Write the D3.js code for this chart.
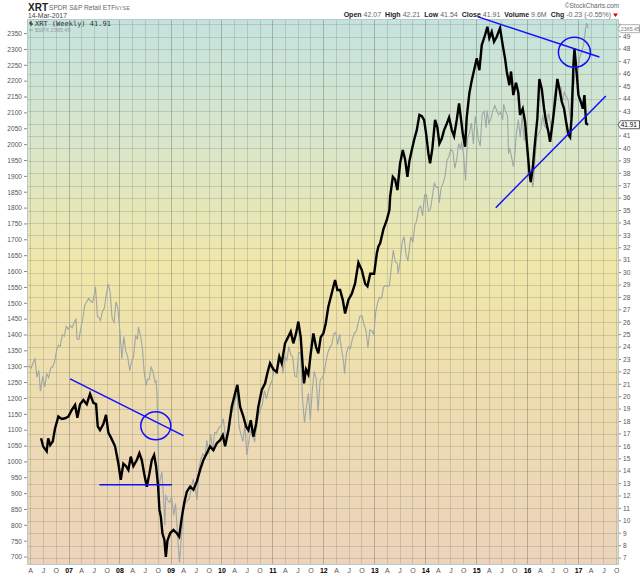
<!DOCTYPE html>
<html><head><meta charset="utf-8">
<script src="https://cdn.jsdelivr.net/npm/d3@7"></script>
<style>
html,body{margin:0;padding:0;background:#fff;}
svg{display:block;font-family:"Liberation Sans",Arial,sans-serif;}
</style></head>
<body><svg id="c" width="640" height="576"></svg>
<script>
// ---------------- DATA ----------------
const quarterLabels = ["A","J","O"];               // month quarter labels between years
const spxTicks = d3.range(700, 2351, 50);           // left axis ($SPX)
const xrtTicks = d3.range(7, 51, 1);                // right axis (XRT)
const headerStats = [["Open","42.07"],["High","42.21"],["Low","41.54"],["Close","41.91"],["Volume","9.6M"],["Chg","-0.23 (-0.55%)"]];
const xrtLast = 41.91, spxLast = 2365.45;

// XRT weekly (decimal year, price)
const xrt = [
[2006.46,16.65],[2006.50,16.0],[2006.57,15.6],[2006.60,16.65],[2006.64,16.1],[2006.69,16.4],[2006.735,17.46],[2006.80,18.4],[2006.866,18.2],[2006.93,18.26],[2006.996,18.4],
[2007.063,18.93],[2007.128,19.33],[2007.173,18.3],[2007.226,19.4],[2007.291,19.74],[2007.357,19.4],[2007.422,20.22],[2007.487,19.5],[2007.54,19.4],[2007.573,17.6],[2007.618,17.3],[2007.683,17.8],[2007.736,18.53],[2007.781,17.1],[2007.834,16.7],[2007.913,16.0],[2007.977,14.64],
[2008.025,13.3],[2008.076,14.6],[2008.129,14.4],[2008.174,14.1],[2008.221,15.17],[2008.272,14.4],[2008.339,14.9],[2008.39,15.44],[2008.437,14.9],[2008.482,13.83],[2008.535,12.75],[2008.586,13.8],[2008.633,14.9],[2008.678,15.3],[2008.717,14.4],[2008.757,12.75],[2008.782,10.88],[2008.81,10.34],[2008.841,9.0],[2008.88,8.46],[2008.908,7.1],[2008.939,8.4],[2008.992,9.0],
[2009.057,9.27],[2009.124,9.0],[2009.169,8.73],[2009.222,10.3],[2009.267,11.42],[2009.32,12.35],[2009.385,12.75],[2009.449,12.5],[2009.516,13.16],[2009.581,14.1],[2009.646,14.9],[2009.712,15.44],[2009.777,16.0],[2009.842,15.7],[2009.909,16.25],[2009.974,16.5],
[2010.026,16.9],[2010.072,16.0],[2010.137,17.32],[2010.203,19.2],[2010.268,20.28],[2010.313,20.95],[2010.366,19.2],[2010.431,18.39],[2010.484,17.59],[2010.529,17.3],[2010.576,18.1],[2010.627,16.78],[2010.68,17.8],[2010.725,19.2],[2010.792,20.54],[2010.857,21.08],[2010.902,21.9],[2010.955,22.7],
[2011.02,22.2],[2011.086,22.0],[2011.137,23.23],[2011.184,22.7],[2011.249,24.3],[2011.314,24.84],[2011.361,25.24],[2011.412,24.3],[2011.465,25.1],[2011.51,26.05],[2011.557,24.8],[2011.597,22.4],[2011.622,21.08],[2011.661,22.2],[2011.707,21.8],[2011.754,23.5],[2011.805,25.1],[2011.858,24.0],[2011.903,23.5],[2011.95,24.8],
[2012.001,25.1],[2012.048,25.9],[2012.099,27.25],[2012.166,28.33],[2012.231,29.4],[2012.276,28.6],[2012.329,28.6],[2012.382,27.8],[2012.427,26.7],[2012.492,27.8],[2012.559,28.3],[2012.623,29.13],[2012.688,30.8],[2012.755,30.2],[2012.82,29.1],[2012.865,28.9],[2012.92,29.9],[2012.996,29.9],
[2013.049,31.55],[2013.08,32.1],[2013.114,32.36],[2013.179,33.5],[2013.245,34.24],[2013.296,35.04],[2013.31,36.1],[2013.363,37.72],[2013.408,37.5],[2013.453,36.65],[2013.506,38.8],[2013.559,39.87],[2013.605,39.1],[2013.65,37.72],[2013.689,39.0],[2013.736,39.87],[2013.781,40.68],[2013.834,41.48],[2013.885,42.7],[2013.932,42.6],[2013.977,42.3],
[2014.017,41.2],[2014.062,39.6],[2014.095,38.8],[2014.14,40.0],[2014.193,42.3],[2014.238,41.7],[2014.278,40.4],[2014.325,40.8],[2014.37,41.48],[2014.423,42.0],[2014.468,42.5],[2014.521,41.5],[2014.566,41.0],[2014.619,42.3],[2014.664,43.63],[2014.737,41.2],[2014.782,40.14],[2014.815,42.5],[2014.866,44.44],[2014.914,45.5],[2014.959,46.3],
[2015.012,47.26],[2015.063,46.3],[2015.11,48.33],[2015.175,49.14],[2015.22,49.8],[2015.259,48.9],[2015.306,49.4],[2015.351,48.6],[2015.404,49.0],[2015.469,49.7],[2015.522,48.33],[2015.567,47.26],[2015.601,46.2],[2015.652,45.1],[2015.685,46.2],[2015.73,44.3],[2015.783,45.3],[2015.828,44.5],[2015.862,42.7],[2015.915,43.2],[2015.96,42.15],
[2016.005,40.0],[2016.044,38.13],[2016.072,37.3],[2016.111,38.4],[2016.156,40.54],[2016.201,42.4],[2016.241,45.6],[2016.288,44.8],[2016.333,43.2],[2016.372,42.15],[2016.417,41.35],[2016.45,40.54],[2016.503,42.15],[2016.548,43.76],[2016.593,45.6],[2016.633,44.8],[2016.68,43.76],[2016.725,43.2],[2016.764,42.15],[2016.81,41.1],[2016.843,40.9],[2016.876,42.7],[2016.908,46.7],[2016.928,48.07],[2016.975,45.9],
[2017.006,44.3],[2017.053,43.76],[2017.093,43.2],[2017.124,44.3],[2017.157,42.0],[2017.197,41.91]
];

// $SPX (date, close)
const spx = [
["2006-03-09",1300],["2006-03-24",1302],["2006-04-07",1295],["2006-04-21",1311],["2006-05-05",1325],["2006-05-19",1267],["2006-06-02",1288],["2006-06-13",1223],["2006-06-30",1270],["2006-07-14",1236],["2006-07-28",1278],["2006-08-11",1266],["2006-08-25",1295],["2006-09-08",1299],["2006-09-22",1314],["2006-10-06",1349],["2006-10-20",1368],["2006-11-03",1364],["2006-11-17",1401],["2006-12-01",1396],["2006-12-15",1427],["2006-12-29",1418],
["2007-01-12",1430],["2007-01-26",1423],["2007-02-09",1438],["2007-02-23",1451],["2007-03-02",1387],["2007-03-16",1386],["2007-03-30",1421],["2007-04-13",1452],["2007-04-27",1494],["2007-05-11",1505],["2007-05-25",1515],["2007-06-08",1507],["2007-06-22",1502],["2007-07-06",1530],["2007-07-13",1552],["2007-07-27",1458],["2007-08-10",1453],["2007-08-17",1445],["2007-08-31",1473],["2007-09-14",1484],["2007-09-28",1526],["2007-10-12",1561],["2007-10-26",1535],["2007-11-09",1453],["2007-11-23",1440],["2007-12-07",1504],["2007-12-21",1484],
["2008-01-04",1411],["2008-01-18",1325],["2008-02-01",1395],["2008-02-15",1349],["2008-02-29",1331],["2008-03-14",1288],["2008-03-28",1316],["2008-04-11",1332],["2008-04-25",1397],["2008-05-09",1388],["2008-05-16",1425],["2008-05-30",1400],["2008-06-13",1360],["2008-06-27",1278],["2008-07-11",1240],["2008-07-18",1260],["2008-08-01",1260],["2008-08-15",1298],["2008-08-29",1283],["2008-09-12",1252],["2008-09-19",1255],["2008-09-26",1213],["2008-10-03",1099],["2008-10-10",899],["2008-10-17",940],["2008-10-31",968],["2008-11-14",873],["2008-11-21",800],["2008-11-28",896],["2008-12-12",879],["2008-12-26",872],
["2009-01-09",890],["2009-01-23",832],["2009-02-06",869],["2009-02-20",770],["2009-03-06",683],["2009-03-20",768],["2009-04-03",843],["2009-04-17",870],["2009-05-01",877],["2009-05-15",883],["2009-05-29",919],["2009-06-12",946],["2009-06-26",918],["2009-07-10",880],["2009-07-24",979],["2009-08-07",1010],["2009-08-21",1026],["2009-09-04",1016],["2009-09-18",1068],["2009-10-02",1025],["2009-10-16",1087],["2009-10-30",1036],["2009-11-13",1093],["2009-11-27",1091],["2009-12-11",1106],["2009-12-31",1115],
["2010-01-15",1136],["2010-01-29",1074],["2010-02-12",1075],["2010-02-26",1104],["2010-03-12",1150],["2010-03-26",1167],["2010-04-09",1194],["2010-04-23",1217],["2010-05-07",1111],["2010-05-21",1087],["2010-06-04",1064],["2010-06-18",1117],["2010-07-02",1022],["2010-07-16",1065],["2010-07-30",1101],["2010-08-13",1079],["2010-08-27",1065],["2010-09-10",1110],["2010-09-24",1149],["2010-10-08",1165],["2010-10-22",1183],["2010-11-05",1225],["2010-11-19",1199],["2010-12-03",1224],["2010-12-17",1243],["2010-12-31",1258],
["2011-01-14",1293],["2011-01-28",1276],["2011-02-11",1329],["2011-02-25",1320],["2011-03-11",1304],["2011-03-18",1279],["2011-04-01",1332],["2011-04-15",1320],["2011-04-29",1364],["2011-05-13",1338],["2011-05-27",1331],["2011-06-10",1271],["2011-06-24",1268],["2011-07-08",1344],["2011-07-22",1345],["2011-08-05",1199],["2011-08-19",1124],["2011-09-02",1174],["2011-09-16",1216],["2011-09-30",1131],["2011-10-14",1224],["2011-10-28",1285],["2011-11-11",1263],["2011-11-25",1159],["2011-12-09",1255],["2011-12-23",1265],
["2012-01-06",1278],["2012-01-20",1315],["2012-02-03",1345],["2012-02-17",1361],["2012-03-02",1370],["2012-03-16",1404],["2012-03-30",1408],["2012-04-13",1370],["2012-04-27",1403],["2012-05-11",1353],["2012-05-25",1318],["2012-06-01",1278],["2012-06-15",1343],["2012-06-29",1362],["2012-07-13",1357],["2012-07-27",1386],["2012-08-10",1405],["2012-08-24",1411],["2012-09-07",1438],["2012-09-21",1460],["2012-10-05",1461],["2012-10-19",1433],["2012-11-02",1414],["2012-11-16",1359],["2012-11-30",1416],["2012-12-14",1413],["2012-12-28",1402],
["2013-01-11",1472],["2013-01-25",1503],["2013-02-08",1518],["2013-02-22",1516],["2013-03-08",1551],["2013-03-22",1556],["2013-04-05",1553],["2013-04-19",1555],["2013-05-03",1614],["2013-05-17",1667],["2013-05-31",1631],["2013-06-14",1626],["2013-06-21",1593],["2013-07-05",1632],["2013-07-19",1692],["2013-08-02",1710],["2013-08-16",1655],["2013-08-30",1633],["2013-09-13",1688],["2013-09-20",1710],["2013-10-04",1691],["2013-10-18",1745],["2013-11-01",1762],["2013-11-15",1798],["2013-11-29",1806],["2013-12-13",1775],["2013-12-27",1841],
["2014-01-10",1842],["2014-01-24",1790],["2014-02-07",1797],["2014-02-21",1836],["2014-03-07",1878],["2014-03-21",1866],["2014-04-04",1865],["2014-04-11",1816],["2014-04-25",1863],["2014-05-09",1878],["2014-05-23",1900],["2014-06-06",1950],["2014-06-20",1963],["2014-07-03",1985],["2014-07-18",1978],["2014-08-01",1925],["2014-08-15",1955],["2014-08-29",2003],["2014-09-12",1985],["2014-09-19",2010],["2014-10-03",1967],["2014-10-17",1886],["2014-10-31",2018],["2014-11-14",2039],["2014-11-28",2068],["2014-12-12",2002],["2014-12-26",2089],
["2015-01-09",2045],["2015-01-16",2019],["2015-01-30",1995],["2015-02-13",2097],["2015-02-27",2105],["2015-03-13",2053],["2015-03-20",2108],["2015-04-02",2067],["2015-04-17",2081],["2015-05-01",2108],["2015-05-15",2123],["2015-05-29",2107],["2015-06-12",2094],["2015-06-26",2102],["2015-07-10",2077],["2015-07-17",2127],["2015-07-31",2104],["2015-08-14",2092],["2015-08-21",1971],["2015-08-28",1989],["2015-09-11",1962],["2015-09-25",1931],["2015-10-02",1951],["2015-10-16",2033],["2015-10-30",2079],["2015-11-13",2023],["2015-11-27",2090],["2015-12-11",2012],["2015-12-24",2061],
["2016-01-08",1922],["2016-01-22",1907],["2016-02-05",1880],["2016-02-12",1865],["2016-02-26",1948],["2016-03-11",2022],["2016-03-24",2035],["2016-04-08",2048],["2016-04-22",2092],["2016-05-06",2057],["2016-05-20",2052],["2016-06-03",2099],["2016-06-17",2071],["2016-06-24",2037],["2016-07-08",2130],["2016-07-22",2175],["2016-08-05",2183],["2016-08-19",2184],["2016-09-02",2180],["2016-09-09",2128],["2016-09-23",2165],["2016-10-07",2153],["2016-10-21",2141],["2016-11-04",2085],["2016-11-18",2182],["2016-12-02",2192],["2016-12-16",2259],["2016-12-30",2239],
["2017-01-13",2275],["2017-01-27",2295],["2017-02-10",2316],["2017-02-24",2367],["2017-03-03",2383],["2017-03-10",2373],["2017-03-14",2365.45]
];

// trend-line annotations (decimal year, XRT price)
const trendLines = [
  [[2007.03,21.43],[2009.253,16.86]],
  [[2007.605,12.91],[2009.026,12.91]],
  [[2015.024,50.62],[2017.418,47.37]],
  [[2015.385,35.23],[2017.544,44.23]]
];
const circles = [[2008.711,17.66],[2016.927,47.75]];

// ---------------- CHART ----------------
const svg = d3.select("#c");
const L = 27, R = 619, T = 19, B = 565;
const dy = y => { const yr = Math.floor(y); const a = new Date(yr,0,1), b = new Date(yr+1,0,1); return new Date(+a + (y-yr)*(b-a)); };
const pd = d3.timeParse("%Y-%m-%d");
const x = d3.scaleTime().domain([new Date(2006,2,9), new Date(2017,9,21)]).range([L,R]);
const yS = d3.scaleLinear().domain([675, 2396]).range([B,T]);
const yX = d3.scaleLinear().domain([6.44, 50.43]).range([B,T]);

const defs = svg.append("defs");
const g = defs.append("linearGradient").attr("id","bg").attr("x1",0).attr("y1",0).attr("x2",0).attr("y2",1);
[[0,"#c4e3dd"],[0.22,"#d8e6cc"],[0.45,"#f0e7a9"],[0.7,"#eedcb0"],[1,"#ecd3bb"]].forEach(s=>g.append("stop").attr("offset",s[0]).attr("stop-color",s[1]));
defs.append("clipPath").attr("id","clip").append("rect").attr("x",L).attr("y",T).attr("width",R-L).attr("height",B-T);

svg.append("rect").attr("x",L).attr("y",T).attr("width",R-L).attr("height",B-T).attr("fill","url(#bg)");

// grid
const months = d3.timeMonth.every(3).range(new Date(2006,3,1), new Date(2017,10,1));
svg.append("g").selectAll("line").data(months).join("line")
  .attr("x1",d=>Math.round(x(d))+0.5).attr("x2",d=>Math.round(x(d))+0.5).attr("y1",T).attr("y2",B)
  .attr("stroke", d=>d.getMonth()===0 ? "rgba(110,120,100,0.45)" : "rgba(120,130,110,0.28)").attr("stroke-width",1);
svg.append("g").selectAll("line").data(xrtTicks).join("line")
  .attr("x1",L).attr("x2",R).attr("y1",d=>Math.round(yX(d))+0.5).attr("y2",d=>Math.round(yX(d))+0.5)
  .attr("stroke","rgba(120,130,110,0.28)").attr("stroke-width",1);

// frame
svg.append("rect").attr("x",L+0.5).attr("y",T+0.5).attr("width",R-L-1).attr("height",B-T-1)
  .attr("fill","none").attr("stroke","#b9c9cc").attr("stroke-width",1);

const plot = svg.append("g").attr("clip-path","url(#clip)");
// SPX line
plot.append("path").datum(spx).attr("fill","none").attr("stroke","#9ea6a6").attr("stroke-width",1.1)
  .attr("d", d3.line().x(d=>x(pd(d[0]))).y(d=>yS(d[1])));
// XRT
plot.append("path").datum(xrt).attr("fill","none").attr("stroke","#000").attr("stroke-width",2.4).attr("stroke-linejoin","miter")
  .attr("d", d3.line().x(d=>x(dy(d[0]))).y(d=>yX(d[1])));

// annotations
const ann = svg.append("g");
trendLines.forEach(l=>ann.append("line").attr("x1",x(dy(l[0][0]))).attr("y1",yX(l[0][1])).attr("x2",x(dy(l[1][0]))).attr("y2",yX(l[1][1]))
  .attr("stroke","#1010ff").attr("stroke-width",1.5));
circles.forEach((c,i)=>ann.append("ellipse").attr("cx",x(dy(c[0]))).attr("cy",yX(c[1])).attr("rx",i?16:15).attr("ry",i?15:14)
  .attr("fill","none").attr("stroke","#1010ff").attr("stroke-width",1.5));

// left axis
const la = svg.append("g").attr("font-size",6.6).attr("fill","#555");
spxTicks.forEach(v=>{
  la.append("text").attr("x",L-5).attr("y",yS(v)+2.3).attr("text-anchor","end").text(v);
  la.append("line").attr("x1",L-3).attr("x2",L).attr("y1",yS(v)).attr("y2",yS(v)).attr("stroke","#888");
});
// right axis (labels hidden where a value box sits)
const boxYs = [yS(spxLast), yX(xrtLast)];
const ra = svg.append("g").attr("font-size",6.6).attr("fill","#555");
xrtTicks.forEach(v=>{
  ra.append("line").attr("x1",R).attr("x2",R+2).attr("y1",yX(v)).attr("y2",yX(v)).attr("stroke","#888");
  if (boxYs.some(b=>Math.abs(b-yX(v))<7)) return;
  ra.append("text").attr("x",R+4).attr("y",yX(v)+2.3).text(v);
});
// value boxes
function valBox(y, txt, col, border, fs){
  const gb = svg.append("g");
  gb.append("path").attr("d",`M${R-1},${y} L${R+1.5},${y-4} L${R+20.5},${y-4} L${R+20.5},${y+4} L${R+1.5},${y+4} Z`)
    .attr("fill","#fff").attr("stroke",border).attr("stroke-width",0.8);
  gb.append("text").attr("x",R+1.8).attr("y",y+2.3).attr("font-size",fs).attr("fill",col).text(txt);
}
valBox(yS(spxLast), d3.format(".2f")(spxLast), "#777", "#999", 5.3);
valBox(yX(xrtLast), d3.format(".2f")(xrtLast), "#000", "#333", 6.4);

// bottom axis
const ba = svg.append("g").attr("font-size",7).attr("text-anchor","middle");
months.forEach(d=>{
  const m = d.getMonth();
  const t = m===0 ? d3.timeFormat("%y")(d) : quarterLabels[m/3-1];
  ba.append("text").attr("x",x(d)+0.5).attr("y",573).attr("fill", m===0?"#000":"#555")
    .attr("font-weight", m===0?"bold":"normal").text(t);
});

// header
svg.append("text").attr("x",28).attr("y",10.5).attr("font-size",10).attr("font-weight","bold").attr("fill","#222").text("XRT");
svg.append("text").attr("x",49).attr("y",10.3).attr("font-size",6.6).attr("fill","#666").text("SPDR S&P Retail ETF");
svg.append("text").attr("x",115).attr("y",10.3).attr("font-size",5).attr("fill","#666").attr("letter-spacing",0.4).text("NYSE");
svg.append("text").attr("x",28).attr("y",17.5).attr("font-size",6.8).attr("fill","#444").text("14-Mar-2017");
svg.append("text").attr("x",619).attr("y",8).attr("font-size",6.5).attr("fill","#666").attr("text-anchor","end").text("\u00A9StockCharts.com");
const st = svg.append("text").attr("x",611).attr("y",17).attr("font-size",7).attr("text-anchor","end");
headerStats.forEach((s,i)=>{
  st.append("tspan").attr("font-weight","bold").attr("fill","#222").attr("dx", i?4:0).text(s[0]);
  st.append("tspan").attr("fill","#666").attr("dx",2).text(s[1]);
});
svg.append("path").attr("d","M613,13.5 L618,13.5 L615.5,17 Z").attr("fill","#d00");

// legend
const lg = svg.append("g");
lg.append("line").attr("x1",31).attr("x2",31).attr("y1",21).attr("y2",26).attr("stroke","#222");
lg.append("line").attr("x1",29).attr("x2",31).attr("y1",23).attr("y2",23).attr("stroke","#222");
lg.append("line").attr("x1",31).attr("x2",33).attr("y1",24).attr("y2",24).attr("stroke","#222");
lg.append("text").attr("x",35).attr("y",26).attr("font-family","DejaVu Sans Mono, monospace").attr("font-size",7).attr("fill","#333").text(`XRT (Weekly) ${xrtLast}`);
lg.append("line").attr("x1",29).attr("x2",33).attr("y1",30).attr("y2",30).attr("stroke","#9ea6a6").attr("stroke-width",1.2);
lg.append("text").attr("x",35).attr("y",32).attr("font-size",5.5).attr("fill","#999").text(`$SPX ${spxLast}`);
</script></body></html>
